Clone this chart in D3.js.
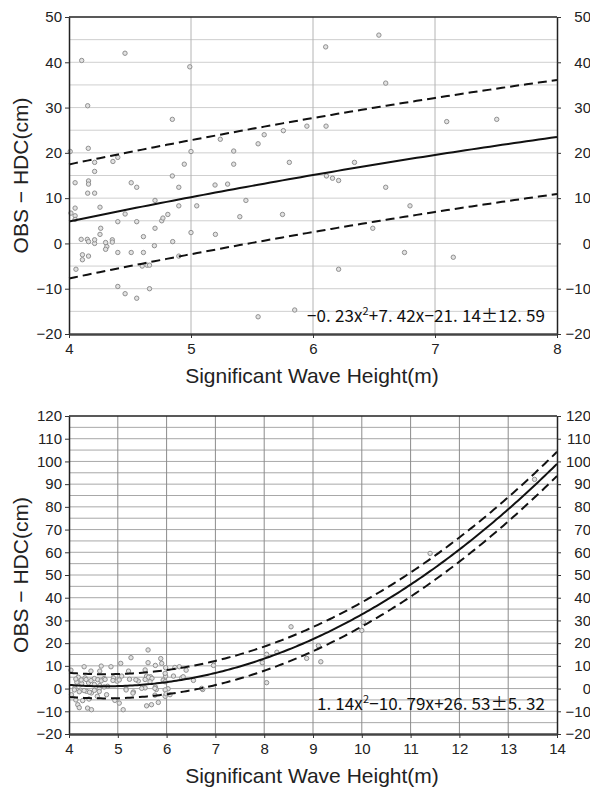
<!DOCTYPE html>
<html>
<head>
<meta charset="utf-8">
<script src="https://cdn.jsdelivr.net/npm/d3@7"></script>
<style>
  body { margin: 0; background: #fff; }
  text { font-family: "Liberation Sans", Arial, sans-serif; }
</style>
</head>
<body>
<div id="chart"></div>
<script>
// top panel: observations vs wave height 4-8 m
const topX = [4.104, 4.459, 4.153, 4.99, 4.847, 4.158, 4.01, 4.21, 4.21, 4.36, 4.40, 4.05, 4.16, 4.16, 4.153, 4.21,
  4.51, 4.555, 4.847, 4.90, 4.945, 5.0, 5.197, 5.30, 5.24, 5.35, 5.35, 5.55, 5.60, 5.757, 5.806, 6.104, 6.54, 6.596,
  5.95, 6.107, 6.34, 6.11, 6.16, 6.21, 6.596, 7.096, 7.506, 4.05, 4.05, 4.05, 4.016, 4.254, 4.26, 4.254, 4.40, 4.46,
  4.555, 4.705, 4.705, 4.76, 4.77, 4.81, 4.90, 5.047, 5.0, 5.20, 5.45, 5.40, 5.75, 4.10, 4.15, 4.16, 4.21, 4.21, 4.30,
  4.31, 4.30, 4.355, 4.355, 4.61, 4.70, 4.85, 4.11, 4.11, 4.16, 4.40, 4.51, 4.61, 4.90, 4.057, 4.60, 4.64, 4.66, 4.40,
  4.46, 4.555, 4.66, 5.55, 5.85, 6.795, 6.49, 6.75, 7.15, 6.21];
const topY = [40.4, 42.0, 30.4, 39.0, 27.4, 21.0, 20.3, 17.9, 15.9, 18.1, 19.0, 13.4, 13.8, 13.1, 11.1, 11.1,
  13.4, 12.4, 14.9, 12.4, 17.5, 20.3, 12.9, 13.1, 23.0, 20.4, 17.5, 22.0, 24.0, 24.9, 17.9, 43.4, 46.0, 35.4,
  25.9, 25.9, 17.9, 14.9, 14.4, 13.9, 12.4, 26.9, 27.4, 7.8, 6.1, 5.3, 6.7, 8.0, 3.35, 2.0, 4.8, 6.5,
  4.8, 9.5, 3.35, 5.0, 5.6, 6.4, 8.3, 8.3, 2.4, 2.0, 9.5, 5.9, 6.4, 0.9, 0.9, 0.4, 0.0, 0.8, 0.2,
  -0.7, -1.3, 0.8, 0.3, 1.5, -0.5, 0.4, -2.5, -3.6, -2.8, -2.0, -2.0, -2.0, -2.8, -5.7, -5.0, -4.8, -4.8, -9.5,
  -11.1, -12.1, -10.0, -16.2, -14.7, 8.3, 3.35, -2.0, -3.05, -5.7];
const topFit = [-0.23, 7.42, -21.14];   // a, b, c of ax^2+bx+c
const topErr = 12.59;
const topXTicks = [4, 5, 6, 7, 8];
const topYTicks = [-20, -10, 0, 10, 20, 30, 40, 50];

// bottom panel: wave height 4-14 m
const botX = [5.62, 5.88, 5.27, 5.06, 5.62, 5.77, 5.98, 4.66, 4.86, 4.31, 6.26, 6.96, 6.40, 4.04, 4.45, 4.63, 5.22,
  5.59, 5.67, 6.14, 4.19, 4.33, 4.52, 4.72, 4.91, 5.08, 5.42, 5.93, 5.98, 6.31, 6.55, 4.16, 4.26, 4.40, 4.52, 4.63,
  4.79, 5.17, 5.32, 5.56, 5.77, 5.79, 6.03, 6.74, 4.12, 4.23, 4.36, 4.46, 4.77, 4.05, 4.58, 5.97, 6.07, 4.94, 5.03,
  4.18, 4.38, 4.46, 5.11, 5.59, 5.69, 5.83, 4.62, 4.72, 4.98, 4.14, 4.25, 4.35, 4.45, 4.59, 4.66, 4.74, 4.90, 5.03,
  5.24, 5.37, 4.11, 4.21, 4.31, 4.42, 4.52, 4.62, 5.17, 5.31, 4.14, 4.28, 4.41, 4.21, 5.90, 5.56, 5.63, 5.70, 5.97,
  6.17, 6.34, 5.56, 5.66, 5.97, 5.49, 5.76, 5.97, 5.76, 5.99, 6.72, 8.55, 8.05, 8.26, 7.96, 8.05, 8.87, 9.11, 9.16,
  10.03, 10.0, 11.40, 13.54];
const botY = [17.0, 13.2, 13.6, 11.1, 11.4, 10.2, 9.2, 9.9, 9.6, 9.6, 9.6, 10.2, 8.1, 8.1, 7.7, 7.7, 7.7,
  5.5, 5.2, 5.5, 5.0, 4.7, 4.4, 4.4, 4.7, 5.5, 3.3, 3.7, 5.5, 4.7, 3.6, 2.8, 2.2, 2.5, 1.8, 1.3,
  1.0, -0.1, -1.5, 0.3, 0.7, -0.4, -0.1, -0.4, 0.3, -0.7, -1.2, -1.9, -2.7, -2.7, -3.4, -3.4, -2.7, -5.2, -6.4,
  -7.1, -8.6, -9.3, -9.3, -7.6, -7.1, -6.1, -0.1, 0.7, 3.3, 4.2, 3.8, 4.0, 3.5, 3.9, 3.4, 4.0, 3.6, 3.8,
  4.1, 3.9, -0.6, -1.4, -0.9, -1.6, -0.8, -1.3, -0.6, -2.0, -5.0, -5.3, -4.6, -8.4, 11.1, 8.2, 5.0, 4.5, 6.7,
  9.3, 5.2, 4.0, 3.0, 3.0, 0.1, 0.1, -0.6, -2.9, -2.3, 0.1, 27.2, 15.1, 16.0, 11.4, 2.6, 13.3, 18.9, 11.8,
  29.2, 25.6, 59.5, 92.1];
const botFit = [1.14, -10.79, 26.53];
const botErr = 5.32;
const botXTicks = [4, 5, 6, 7, 8, 9, 10, 11, 12, 13, 14];
const botYTicks = [-20, -10, 0, 10, 20, 30, 40, 50, 60, 70, 80, 90, 100, 110, 120];

const W = 590, H = 787;
const svg = d3.select("#chart").append("svg")
  .attr("width", W).attr("height", H)
  .attr("viewBox", [0, 0, W, H]);

function panel(o) {
  const left = 69, right = 557;
  const x = d3.scaleLinear().domain(o.xDomain).range([left, right]);
  const y = d3.scaleLinear().domain(o.yDomain).range([o.bottom, o.top]);
  const g = svg.append("g");

  // grid
  g.append("g").selectAll("line")
    .data(o.hGrid)
    .join("line")
    .attr("x1", left).attr("x2", right)
    .attr("y1", d => y(d)).attr("y2", d => y(d))
    .attr("stroke", o.hColor).attr("stroke-width", 1);
  g.append("g").selectAll("line")
    .data(o.xTicks.slice(1, -1))
    .join("line")
    .attr("x1", d => x(d)).attr("x2", d => x(d))
    .attr("y1", o.top).attr("y2", o.bottom)
    .attr("stroke", o.vColor).attr("stroke-width", 1);

  // points
  g.append("g").selectAll("circle")
    .data(o.xs.map((v, i) => [v, o.ys[i]]))
    .join("circle")
    .attr("cx", d => x(d[0]))
    .attr("cy", d => y(d[1]))
    .attr("r", 2.2)
    .attr("fill", "#e2e2e2")
    .attr("stroke", "#909090")
    .attr("stroke-width", 1);

  // fitted curve and error band, from the coefficients printed on the chart
  const f = v => o.fit[0] * v * v + o.fit[1] * v + o.fit[2];
  const xsLine = d3.range(o.xDomain[0], o.xDomain[1] + 0.001, 0.05);
  const line = d3.line().x(d => x(d[0])).y(d => y(d[1]));
  [[0, null], [o.err, "9,5"], [-o.err, "9,5"]].forEach(([off, dash]) => {
    g.append("path")
      .datum(xsLine.map(v => [v, f(v) + off]))
      .attr("d", line)
      .attr("fill", "none")
      .attr("stroke", "#111")
      .attr("stroke-width", 2)
      .attr("stroke-dasharray", dash);
  });

  // frame
  g.append("line").attr("x1", left).attr("x2", right).attr("y1", o.top).attr("y2", o.top)
    .attr("stroke", "#222").attr("stroke-width", 1.5);

  const ax = (sel) => {
    sel.selectAll("text").attr("font-size", 15).attr("fill", "#222");
    sel.select(".domain").attr("stroke", "#222").attr("stroke-width", 1.5);
    sel.selectAll(".tick line").attr("stroke", "#333");
  };
  g.append("g")
    .attr("transform", `translate(${left},0)`)
    .call(d3.axisLeft(y).tickValues(o.yTicks).tickSize(4).tickSizeOuter(0).tickFormat(d3.format("d")))
    .call(ax);
  g.append("g")
    .attr("transform", `translate(${right},0)`)
    .call(d3.axisRight(y).tickValues(o.yTicks).tickSize(4).tickSizeOuter(0).tickFormat(d3.format("d")))
    .call(ax)
    .selectAll("text").attr("text-anchor", "end").attr("x", 34);
  g.append("g")
    .attr("transform", `translate(0,${o.bottom})`)
    .call(d3.axisBottom(x).tickValues(o.xTicks).tickSize(4).tickPadding(5).tickSizeOuter(0).tickFormat(d3.format("d")))
    .call(ax)
    .select(".domain").attr("stroke", "#444").attr("stroke-width", 2.5);

  // labels
  svg.append("text")
    .attr("transform", `translate(28,${(o.top + o.bottom) / 2}) rotate(-90)`)
    .attr("text-anchor", "middle")
    .attr("font-size", 21)
    .attr("fill", "#222")
    .text("OBS − HDC(cm)");
  svg.append("text")
    .attr("x", 312).attr("y", o.bottom + 49)
    .attr("text-anchor", "middle")
    .attr("font-size", 21)
    .attr("fill", "#222")
    .text("Significant Wave Height(m)");

  // equation
  const eq = svg.append("text")
    .attr("x", o.eqX).attr("y", y(o.eqY))
    .attr("font-size", 17)
    .attr("fill", "#111")
    .attr("textLength", 545 - o.eqX)
    .attr("lengthAdjust", "spacing")
    .style("font-family", '"Noto Sans CJK JP", "DejaVu Sans", sans-serif');
  eq.append("tspan").text(o.eq[0]);
  eq.append("tspan").attr("font-size", 11).attr("dy", -7).text("2");
  eq.append("tspan").attr("dy", 7).text(o.eq[1]);
}

panel({
  xDomain: [4, 8], yDomain: [-20, 50], top: 17, bottom: 334,
  xTicks: topXTicks, yTicks: topYTicks, hGrid: d3.range(-15, 50, 5),
  hColor: "#cfcfcf", vColor: "#b4b4b4",
  xs: topX, ys: topY, fit: topFit, err: topErr,
  eq: ["−0. 23x", "+7. 42x−21. 14±12. 59"], eqX: 307, eqY: -17.3
});
panel({
  xDomain: [4, 14], yDomain: [-20, 120], top: 416, bottom: 734,
  xTicks: botXTicks, yTicks: botYTicks, hGrid: d3.range(-15, 120, 5),
  hColor: "#a8a8a8", vColor: "#8c8c8c",
  xs: botX, ys: botY, fit: botFit, err: botErr,
  eq: ["1. 14x", "−10. 79x+26. 53±5. 32"], eqX: 317, eqY: -9.5
});
</script>
</body>
</html>
